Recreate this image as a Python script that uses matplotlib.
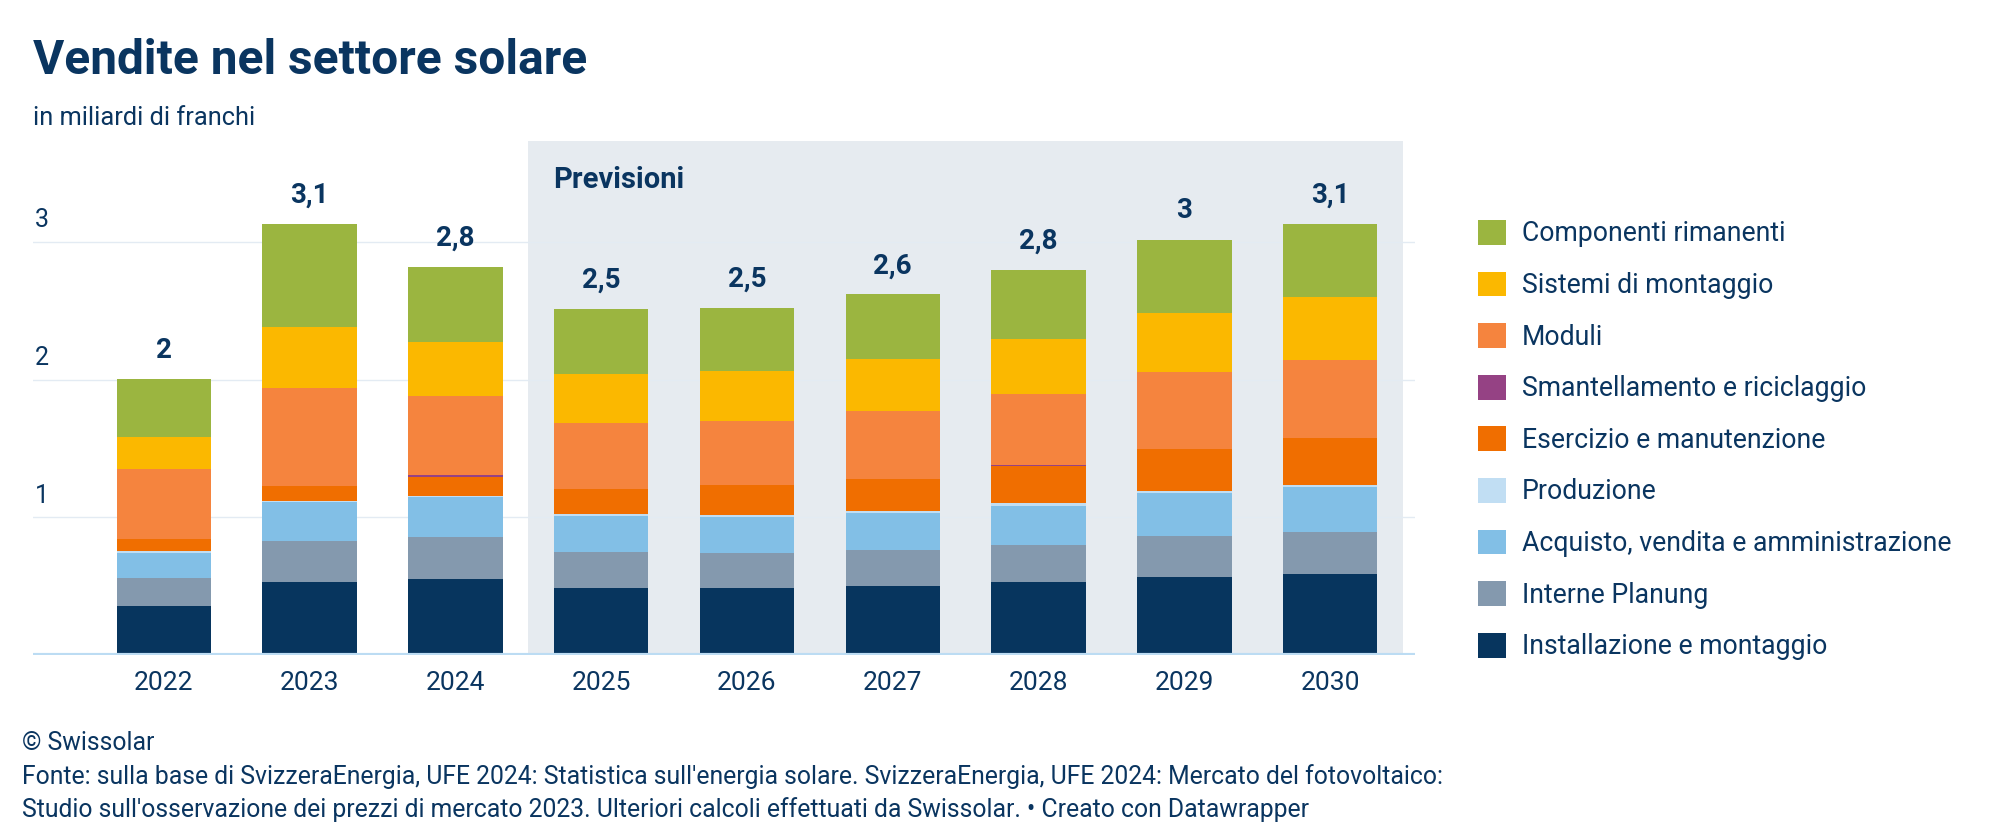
import matplotlib
matplotlib.use("Agg")
import matplotlib.pyplot as plt
from matplotlib.patches import Patch, Rectangle

plt.rcParams['font.family'] = ['Roboto', 'DejaVu Sans']

# dati (miliardi di franchi)
anni = ['2022', '2023', '2024', '2025', '2026', '2027', '2028', '2029', '2030']
etichette_totali = ['2', '3,1', '2,8', '2,5', '2,5', '2,6', '2,8', '3', '3,1']

installazione = [0.36, 0.53, 0.555, 0.49, 0.485, 0.50, 0.53, 0.57, 0.59]
planung = [0.20, 0.30, 0.30, 0.26, 0.26, 0.265, 0.27, 0.295, 0.305]
acquisto = [0.18, 0.28, 0.29, 0.26, 0.26, 0.27, 0.285, 0.31, 0.325]
produzione = [0.017, 0.008, 0.009, 0.012, 0.009, 0.012, 0.017, 0.014, 0.015]
esercizio = [0.087, 0.113, 0.14, 0.181, 0.218, 0.235, 0.268, 0.305, 0.34]
smantellamento = [0, 0, 0.015, 0, 0, 0, 0.007, 0, 0]
moduli = [0.51, 0.71, 0.57, 0.48, 0.47, 0.49, 0.52, 0.56, 0.57]
sistemi = [0.23, 0.44, 0.39, 0.36, 0.36, 0.375, 0.40, 0.43, 0.45]
componenti = [0.42, 0.75, 0.55, 0.47, 0.46, 0.47, 0.50, 0.53, 0.535]

# dal basso verso l'alto
serie = [
    ('Installazione e montaggio', installazione, '#07355e'),
    ('Interne Planung', planung, '#8499ae'),
    ('Acquisto, vendita e amministrazione', acquisto, '#82bfe6'),
    ('Produzione', produzione, '#c1def3'),
    ('Esercizio e manutenzione', esercizio, '#f06e00'),
    ('Smantellamento e riciclaggio', smantellamento, '#954284'),
    ('Moduli', moduli, '#f5843e'),
    ('Sistemi di montaggio', sistemi, '#fbb800'),
    ('Componenti rimanenti', componenti, '#9bb540'),
]

testo = '#0a3560'

fig = plt.figure(figsize=(20.1, 8.4), dpi=100)
ax = fig.add_axes([33 / 2010, 184.7 / 840, 1382 / 2010, 514.3 / 840])

x = list(range(len(anni)))
ax.set_xlim(-0.897, 8.582)
ax.set_ylim(0, 3.73)

# area previsioni
ax.add_patch(Rectangle((2.5, 0), 6, 3.73, facecolor='#e6ebf0', edgecolor='none', zorder=0))
ax.text(2.67, 3.45, 'Previsioni', fontsize=21, fontweight='bold', color=testo, va='center', ha='left')

for g in [1, 2, 3]:
    ax.axhline(g, color='#e3ebf3', lw=1, zorder=0.5)
    ax.text(0.0016, g + 0.07, str(g), transform=ax.get_yaxis_transform(), fontsize=18,
            color=testo, ha='left', va='bottom')

base = [0] * len(anni)
for nome, valori, colore in serie:
    ax.bar(x, valori, bottom=base, width=0.647, color=colore, edgecolor='none', zorder=2)
    base = [b + v for b, v in zip(base, valori)]

for xi, tot, lab in zip(x, base, etichette_totali):
    ax.annotate(lab, (xi, tot), xytext=(0, 11), textcoords='offset points', ha='center', va='bottom',
                fontsize=20, fontweight='bold', color=testo)

ax.axhline(0, color='#bcdcf3', lw=3, zorder=3)

for s in ax.spines.values():
    s.set_visible(False)
ax.set_yticks([])
ax.set_xticks(x)
ax.set_xticklabels(anni, fontsize=19, color=testo)
ax.tick_params(axis='x', length=0, pad=11)

# legenda
maniglie = [Patch(facecolor=c, edgecolor='none', label=n) for n, v, c in serie][::-1]
fig.legend(handles=maniglie, loc='upper left', bbox_to_anchor=(1478 / 2010, 1 - 220 / 840),
           frameon=False, fontsize=19.2, handlelength=1.05, handleheight=1.05,
           handletextpad=0.6, labelspacing=0.905, borderpad=0, borderaxespad=0,
           labelcolor=testo)

fig.text(33 / 2010, 1 - 61 / 840, 'Vendite nel settore solare', fontsize=34.5, fontweight='bold',
         color=testo, va='center')
fig.text(33 / 2010, 1 - 118 / 840, 'in miliardi di franchi', fontsize=18.3, color=testo, va='center')

note = ['© Swissolar',
        "Fonte: sulla base di SvizzeraEnergia, UFE 2024: Statistica sull'energia solare. SvizzeraEnergia, UFE 2024: Mercato del fotovoltaico:",
        "Studio sull'osservazione dei prezzi di mercato 2023. Ulteriori calcoli effettuati da Swissolar. • Creato con Datawrapper"]
for i, riga in enumerate(note):
    fig.text(22 / 2010, 1 - (743 + 33.5 * i) / 840, riga, fontsize=17.8, color=testo, va='center')

fig.savefig('out.png', dpi=100)
